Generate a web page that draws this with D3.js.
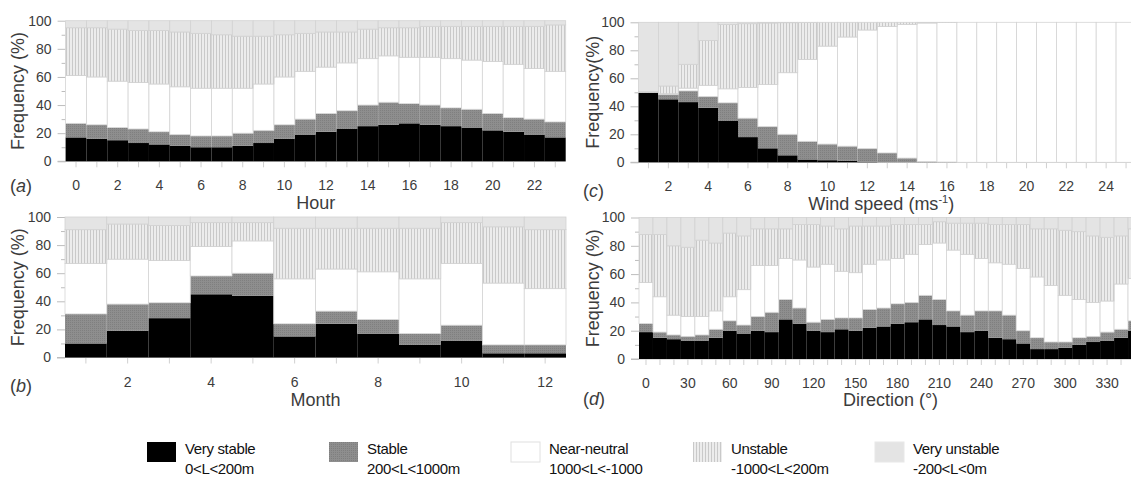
<!DOCTYPE html>
<html>
<head>
<meta charset="utf-8">
<script src="https://cdn.jsdelivr.net/npm/d3@7"></script>
<style>
  html, body { margin: 0; padding: 0; background: #fff; }
  svg { display: block; }
  text { font-family: "Liberation Sans", Arial, Helvetica, sans-serif; }
</style>
</head>
<body>
<svg id="chart" width="1131" height="477"></svg>
<script>
// Stability classes, bottom to top of each stacked bar
const classKeys = ["veryStable", "stable", "nearNeutral", "unstable", "veryUnstable"];
const classNames = ["Very stable", "Stable", "Near-neutral", "Unstable", "Very unstable"];
const classRanges = ["0<L<200m", "200<L<1000m", "1000<L<-1000", "-1000<L<200m", "-200<L<0m"];

// (a) Hour of day
const hours = d3.range(0, 24);
const hourVeryStable   = [17, 16, 15, 13, 12, 11, 10, 10, 11, 13, 16, 19, 21, 23, 25, 26, 27, 26, 25, 24, 22, 21, 19, 17];
const hourStable       = [10, 10,  9, 10,  9,  8,  8,  8,  9,  9, 10, 11, 13, 13, 15, 16, 14, 14, 13, 13, 12, 10, 11, 11];
const hourNearNeutral  = [34, 34, 33, 33, 34, 34, 34, 34, 32, 33, 34, 34, 33, 34, 33, 33, 33, 34, 35, 35, 37, 38, 36, 36];
const hourUnstable     = [34, 35, 37, 37, 38, 39, 39, 38, 37, 34, 30, 27, 25, 22, 21, 20, 21, 22, 23, 24, 25, 27, 30, 33];
const hourVeryUnstable = [ 5,  5,  6,  7,  7,  8,  9, 10, 11, 11, 10,  9,  8,  8,  6,  5,  5,  4,  4,  4,  4,  4,  4,  3];

// (b) Month
const months = d3.range(1, 13);
const monthVeryStable   = [10, 19, 28, 45, 44, 15, 24, 17,  9, 12,  3,  3];
const monthStable       = [21, 19, 11, 13, 16,  9,  9, 10,  8, 11,  6,  6];
const monthNearNeutral  = [36, 32, 30, 21, 23, 32, 30, 34, 39, 44, 44, 40];
const monthUnstable     = [24, 25, 25, 17, 13, 36, 29, 31, 36, 29, 40, 42];
const monthVeryUnstable = [ 9,  5,  6,  4,  4,  8,  8,  8,  8,  4,  7,  9];

// (c) Wind speed (m/s)
const windSpeeds = d3.range(1, 26);
const windVeryStable   = [49.5, 45, 43, 39, 29.5, 18, 10, 5, 2, 1.5, 1, 0.3, 0, 0, 0, 0, 0, 0, 0, 0, 0, 0, 0, 0, 0];
const windStable       = [0.5, 3.5, 8, 8, 13, 13.5, 15.5, 15, 13, 11.5, 10.5, 9.5, 6.7, 3, 0.5, 0.2, 0, 0, 0, 0, 0, 0, 0, 0, 0];
const windNearNeutral  = [0, 0.5, 2, 8, 10, 22, 30, 44, 58.5, 70, 78, 84.7, 90.3, 95.5, 99, 99.6, 100, 100, 100, 100, 100, 100, 100, 100, 100];
const windUnstable     = [0.5, 5.5, 17, 32, 46, 45.5, 44, 35.7, 26.3, 17, 10.5, 5.5, 3, 1.5, 0.5, 0.2, 0, 0, 0, 0, 0, 0, 0, 0, 0];
const windVeryUnstable = [49.5, 45.5, 30, 13, 1.5, 1, 0.5, 0.3, 0.2, 0, 0, 0, 0, 0, 0, 0, 0, 0, 0, 0, 0, 0, 0, 0, 0];

// (d) Wind direction (degrees)
const directions = d3.range(0, 360, 10);
const dirVeryStable   = [19, 15, 14, 13, 13, 15, 20, 18, 20, 19, 28, 25, 20, 19, 21, 20, 22, 23, 25, 26, 28, 24, 23, 19, 20, 15, 14, 11,  7,  7,  8, 10, 12, 13, 15, 20];
const dirStable       = [ 6,  4,  3,  3,  4,  6,  7,  6, 10, 14, 14, 11,  6,  9,  8,  9, 13, 13, 14, 14, 17, 18, 11, 12, 14, 19, 17,  9,  8,  5,  4,  5,  4,  6,  6,  7];
const dirNearNeutral  = [29, 25, 14, 14, 13, 13, 17, 25, 36, 33, 29, 34, 39, 39, 33, 32, 32, 34, 32, 34, 36, 40, 43, 43, 37, 34, 36, 44, 43, 40, 33, 27, 24, 22, 32, 30];
const dirUnstable     = [34, 44, 49, 49, 54, 48, 45, 38, 26, 26, 21, 25, 30, 27, 30, 33, 27, 24, 24, 21, 14, 15, 19, 22, 25, 27, 28, 31, 34, 40, 46, 48, 47, 45, 34, 35];
const dirVeryUnstable = [12, 12, 20, 21, 16, 18, 11, 13,  8,  8,  8,  5,  5,  6,  8,  6,  6,  6,  5,  5,  5,  3,  4,  4,  4,  5,  5,  5,  8,  8,  9, 10, 13, 14, 13,  8];

// Y axis ticks
const yMajorTicks = [0, 20, 40, 60, 80, 100];
const yMinorTicks = [10, 30, 50, 70, 90];

function rows(cats, a, b, c, d, e) {
  return cats.map((cat, i) => ({
    cat, veryStable: a[i], stable: b[i], nearNeutral: c[i], unstable: d[i], veryUnstable: e[i]
  }));
}

const panels = [
  { letter: "a", cats: hours, data: rows(hours, hourVeryStable, hourStable, hourNearNeutral, hourUnstable, hourVeryUnstable),
    xr: [65.6, 565.7], yr: [161.3, 20.7], labelEvery: d => d % 2 === 0,
    title: "Hour", yTitle: "Frequency (%)", yTitleX: 18, tickY: 190, titleY: 209, letterX: 10, letterY: 192 },
  { letter: "b", cats: months, data: rows(months, monthVeryStable, monthStable, monthNearNeutral, monthUnstable, monthVeryUnstable),
    xr: [65, 566], yr: [357.5, 217], labelEvery: d => d % 2 === 0,
    title: "Month", yTitle: "Frequency (%)", yTitleX: 18, tickY: 387, titleY: 406, letterX: 10, letterY: 392 },
  { letter: "c", cats: windSpeeds, data: rows(windSpeeds, windVeryStable, windStable, windNearNeutral, windUnstable, windVeryUnstable),
    xr: [638.5, 1136], yr: [162.3, 22.3], labelEvery: d => d % 2 === 0,
    title: "Wind speed (ms", titleSup: "-1", yTitle: "Frequency(%)", yTitleX: 593, tickY: 191, titleY: 210, letterX: 583, letterY: 197 },
  { letter: "d", cats: directions, data: rows(directions, dirVeryStable, dirStable, dirNearNeutral, dirUnstable, dirVeryUnstable),
    xr: [639, 1142], yr: [359, 217.5], labelEvery: d => d % 30 === 0,
    title: "Direction (\u00b0)", yTitle: "Frequency (%)", yTitleX: 593, tickY: 388, titleY: 406, letterX: 583, letterY: 405 }
];

const svg = d3.select("#chart");
const defs = svg.append("defs");

// Fill textures
const pStable = defs.append("pattern").attr("id", "pat-stable")
  .attr("patternUnits", "userSpaceOnUse").attr("width", 2).attr("height", 2);
pStable.append("rect").attr("width", 2).attr("height", 2).attr("fill", "#8e8e8e");
pStable.append("rect").attr("width", 1).attr("height", 1).attr("fill", "#7f7f7f");

const pUnstable = defs.append("pattern").attr("id", "pat-unstable")
  .attr("patternUnits", "userSpaceOnUse").attr("width", 3).attr("height", 3);
pUnstable.append("rect").attr("width", 3).attr("height", 3).attr("fill", "#ececec");
pUnstable.append("rect").attr("width", 1).attr("height", 3).attr("fill", "#c9c9c9");

const fills = {
  veryStable: "#000000",
  stable: "url(#pat-stable)",
  nearNeutral: "#ffffff",
  unstable: "url(#pat-unstable)",
  veryUnstable: "#e4e4e4"
};
const strokes = {
  veryStable: "none",
  stable: "none",
  nearNeutral: "#d4d4d4",
  unstable: "#d2d2d2",
  veryUnstable: "#d2d2d2"
};

const stack = d3.stack().keys(classKeys);
const axisColor = "#bdbdbd";
const textColor = "#3c3c3c";

panels.forEach(p => {
  const x = d3.scaleBand().domain(p.cats).range(p.xr).paddingInner(0).paddingOuter(0);
  const y = d3.scaleLinear().domain([0, 100]).range(p.yr);
  const g = svg.append("g").attr("class", "panel-" + p.letter);

  // x axis baseline and ticks
  const xAxis = d3.axisBottom(x).tickSize(6).tickSizeOuter(0).tickPadding(10)
    .tickFormat(d => p.labelEvery(d) ? d : "");
  const xa = g.append("g").attr("transform", `translate(0,${y(0)})`).call(xAxis);
  xa.select(".domain").attr("stroke", axisColor).attr("d", `M${p.xr[0] - 8},0H${p.xr[1]}`);
  xa.selectAll(".tick line").attr("stroke", "#d0d0d0");
  xa.selectAll(".tick text").attr("fill", textColor).attr("font-size", 14)
    .attr("y", null).attr("dy", null)
    .attr("transform", `translate(0,${p.tickY - y(0)})`);

  // y axis
  const ya = g.append("g").attr("transform", `translate(${p.xr[0]},0)`)
    .call(d3.axisLeft(y).tickValues(yMajorTicks).tickSize(8).tickPadding(6));
  ya.select(".domain").remove();
  ya.selectAll(".tick line").attr("stroke", axisColor);
  ya.selectAll(".tick text").attr("fill", textColor).attr("font-size", 14);
  const ym = g.append("g").attr("transform", `translate(${p.xr[0]},0)`)
    .call(d3.axisLeft(y).tickValues(yMinorTicks).tickSize(4).tickFormat(""));
  ym.select(".domain").remove();
  ym.selectAll(".tick line").attr("stroke", axisColor);

  // stacked bars
  const series = stack(p.data);
  g.append("g").selectAll("g").data(series).join("g")
    .attr("fill", s => fills[s.key])
    .attr("stroke", s => strokes[s.key])
    .attr("stroke-width", 0.8)
    .selectAll("rect").data(s => s).join("rect")
    .attr("x", d => x(d.data.cat))
    .attr("width", x.bandwidth())
    .attr("y", d => y(d[1]))
    .attr("height", d => Math.max(0, y(d[0]) - y(d[1])));

  // axis titles
  const t = g.append("text").attr("x", (p.xr[0] + p.xr[1]) / 2 - (p.letter === "c" ? 6 : 0))
    .attr("y", p.titleY).attr("text-anchor", "middle")
    .attr("font-size", 18).attr("fill", textColor).text(p.title);
  if (p.titleSup) {
    t.append("tspan").attr("font-size", 11).attr("dy", -7).text(p.titleSup);
    t.append("tspan").attr("font-size", 18).attr("dy", 7).text(")");
  }
  g.append("text")
    .attr("transform", `translate(${p.yTitleX},${(p.yr[0] + p.yr[1]) / 2}) rotate(-90)`)
    .attr("text-anchor", "middle").attr("dy", "0.35em")
    .attr("font-size", 18).attr("fill", textColor).text(p.yTitle);

  // panel letter
  const lt = g.append("text").attr("x", p.letterX).attr("y", p.letterY)
    .attr("font-size", 18).attr("fill", textColor);
  lt.append("tspan").text("(");
  lt.append("tspan").attr("font-style", "italic").text(p.letter);
  lt.append("tspan").text(")");
});

// legend
const legendX = d3.scalePoint().domain(classKeys).range([147, 875]);
const legend = svg.append("g").attr("class", "legend");
const items = legend.selectAll("g").data(classKeys).join("g")
  .attr("transform", k => `translate(${legendX(k)},442)`);
items.append("rect").attr("width", 29).attr("height", 20)
  .attr("fill", k => fills[k])
  .attr("stroke", k => k === "nearNeutral" ? "#e0e0e0" : (k === "veryUnstable" ? "#e8e8e8" : "none"));
const legendFont = "'Liberation Sans Narrow', 'Liberation Sans', Arial, sans-serif";
items.append("text").attr("x", 38).attr("y", 12)
  .attr("font-family", legendFont).attr("font-size", 15).attr("letter-spacing", -0.35)
  .attr("fill", "#111")
  .text(k => classNames[classKeys.indexOf(k)]);
items.append("text").attr("x", 38).attr("y", 32)
  .attr("font-family", legendFont).attr("font-size", 15).attr("letter-spacing", -0.35)
  .attr("fill", "#111")
  .text(k => classRanges[classKeys.indexOf(k)]);
</script>
</body>
</html>
